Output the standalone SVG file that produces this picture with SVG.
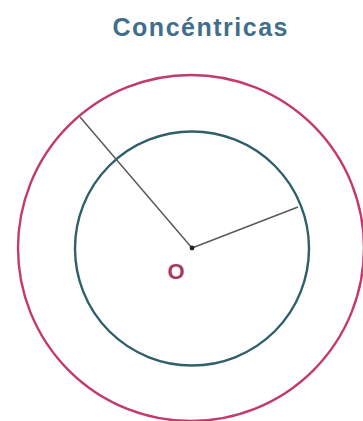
<svg xmlns="http://www.w3.org/2000/svg" width="363" height="421" viewBox="0 0 363 421">
<style>
.title{font-family:"Liberation Sans",Arial,sans-serif;font-weight:bold;font-size:25px;fill:#3f6f8a}
.lbl{font-family:"Liberation Sans",Arial,sans-serif;font-weight:bold;font-size:22px;fill:#a8385e}
.outer{fill:none;stroke:#c23a6e;stroke-width:2.4}
.inner{fill:none;stroke:#2f5f68;stroke-width:2.4}
.rad{stroke:#5a5a5a;stroke-width:1.5}
</style>
<rect width="363" height="421" fill="#ffffff"/>
<text class="title" x="200" y="36" text-anchor="middle" textLength="175" lengthAdjust="spacing">Concéntricas</text>
<g id="outer-circle"><circle class="outer" cx="191" cy="248" r="173"/></g>
<g id="inner-circle"><circle class="inner" cx="192" cy="248.5" r="117"/></g>
<g id="connectors">
<line class="rad" x1="192" y1="248" x2="80" y2="117"/>
<line class="rad" x1="192" y1="248" x2="298" y2="207"/>
</g>
<g id="center"><circle cx="192" cy="248" r="2.4" fill="#222"/>
<text class="lbl" x="176" y="279" text-anchor="middle">O</text></g>
</svg>
